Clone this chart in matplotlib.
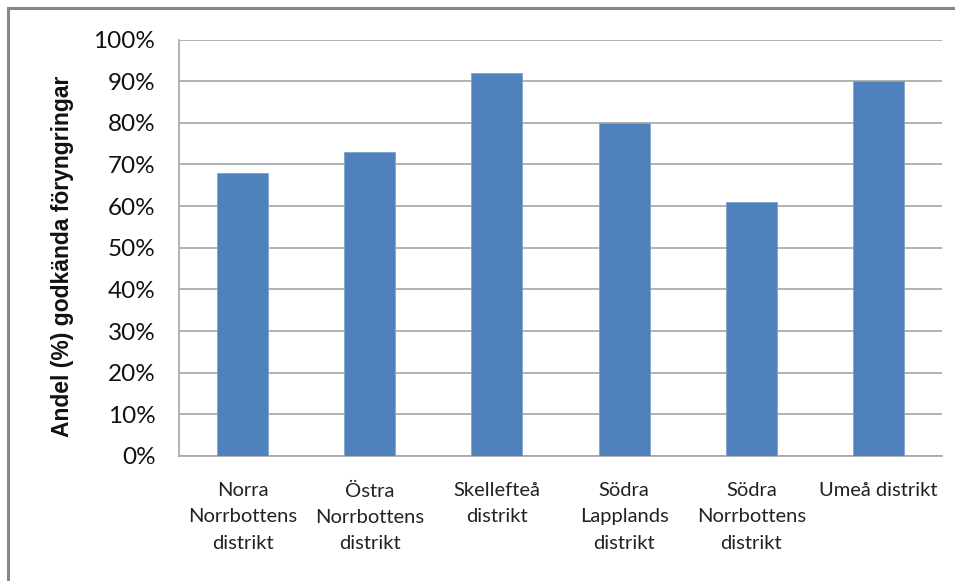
import numpy as np
import matplotlib.pyplot as plt
from matplotlib.patches import Rectangle
from matplotlib.ticker import FuncFormatter

districts = ["Norra\nNorrbottens\ndistrikt", "Östra\nNorrbottens\ndistrikt",
             "Skellefteå\ndistrikt", "Södra\nLapplands\ndistrikt",
             "Södra\nNorrbottens\ndistrikt", "Umeå distrikt"]
share = [68, 73, 92, 80, 61, 90]
yticks = list(range(0, 101, 10))

W, H = 955, 581
fig = plt.figure(figsize=(W / 100, H / 100), dpi=100)
fig.patch.set_facecolor("white")

# frame of the chart object (only top/left visible)
fig.patches.append(Rectangle((8 / W, -0.1), 1.2, 1 - 8 / H + 0.1,
                             transform=fig.transFigure, fill=False,
                             edgecolor="#878787", linewidth=2.2))

ax = fig.add_axes([179 / W, 1 - 456 / H, (942 - 179) / W, (456 - 39.5) / H])
x = np.arange(len(share))
ax.bar(x, share, width=0.4, color="#4F81BD", edgecolor="#7FA3D1", linewidth=0.6, zorder=3)

ax.set_xlim(-0.5, len(share) - 0.5)
ax.set_ylim(0, 100)
ax.set_yticks(yticks)
ax.yaxis.set_major_formatter(FuncFormatter(lambda v, p: "%d%%" % v))
ax.set_xticks(x)
ax.set_xticklabels(districts, fontsize=14.5, family="Lato", linespacing=1.65,
                   color="#222222", va="top")
for lab in ax.get_yticklabels():
    lab.set_fontsize(17.5)
    lab.set_family("Lato")
    lab.set_color("#111111")
ax.tick_params(axis="both", length=0)
ax.tick_params(axis="x", pad=19)
ax.tick_params(axis="y", pad=17)

ax.grid(axis="y", color="#A6A6A6", linewidth=1.2, zorder=0)
for side in ["top", "right"]:
    ax.spines[side].set_visible(False)
for side in ["left", "bottom"]:
    ax.spines[side].set_color("#A6A6A6")
    ax.spines[side].set_linewidth(1.2)

fig.text(62 / W, 1 - 256 / H, "Andel (%) godkända föryngringar", rotation=90,
         ha="center", va="center", fontsize=16.5, fontweight="bold",
         family="Liberation Sans", color="#111111")

fig.savefig("out.png", dpi=100)
